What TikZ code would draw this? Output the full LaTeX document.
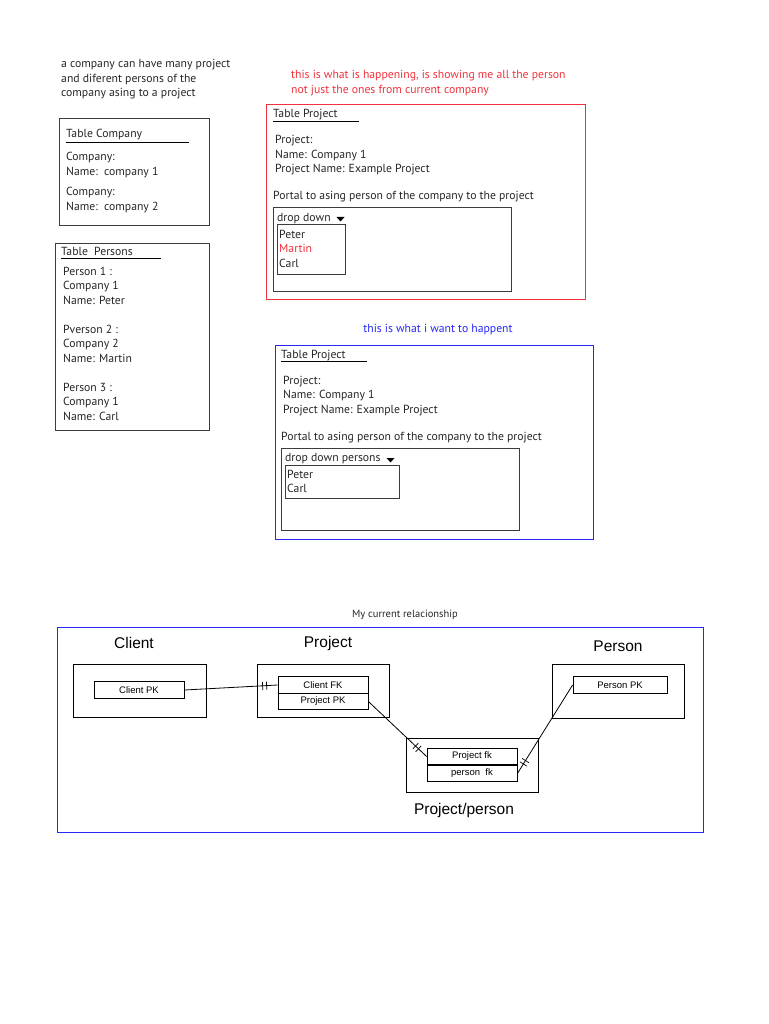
\documentclass[tikz,border=0pt]{standalone}
\usepackage{fontspec}
\setmainfont{PT Sans}
\newfontfamily\arialfont{Liberation Sans}
\usetikzlibrary{decorations.markings}
\definecolor{boxgray}{RGB}{60,60,60}
\definecolor{wrongred}{RGB}{240,50,60}
\definecolor{wantblue}{RGB}{40,40,245}

\begin{document}
\begin{tikzpicture}[x=1pt,y=-1pt,
    txt/.style={anchor=base west,inner sep=0pt,text=black!85,font=\fontsize{11.7}{13}\selectfont},
    tbl/.style={draw=boxgray,line width=1pt},
    ent/.style={draw=black,line width=0.8pt,inner sep=0pt},
    keybox/.style={draw=black,line width=0.8pt,inner sep=0pt,minimum height=16.5pt,font=\arialfont\fontsize{9.5}{10}\selectfont},
    title/.style={inner sep=0pt,font=\arialfont\fontsize{15.5}{17}\selectfont},
    twobars/.style={decoration={markings,
        mark=at position -11pt with {\draw[line width=0.7pt] (0,-4pt) -- (0,4pt);},
        mark=at position -15pt with {\draw[line width=0.7pt] (0,-4pt) -- (0,4pt);}},
      postaction={decorate}}]
    \useasboundingbox[fill=white] (0,0) rectangle (768,1024);

    % Note at the top
    \foreach \t [count=\i] in {a company can have many project, and diferent persons of the, company asing to a project}
      \node[txt] (note\i) at (61,53.5+14.5*\i) {\t};

    % Table Company
    \draw[tbl] (59,119) rectangle (209,226);
    \node[txt] (comphead) at (66,138) {Table Company};
    \draw[line width=0.8pt] (66,142) -- (189,142);
    \node[txt] (comp1a) at (66,161) {Company:};
    \node[txt] (comp1b) at (66,176) {Name:\ \ company 1};
    \node[txt] (comp2a) at (66,196) {Company:};
    \node[txt] (comp2b) at (66,211) {Name:\ \ company 2};

    % Table Persons
    \draw[tbl] (55,243) rectangle (209,430);
    \node[txt] (perhead) at (61,255) {Table\ \ Persons};
    \draw[line width=0.8pt] (61,258) -- (161,258);
    \foreach \t [count=\i] in {Person 1 :, Company 1, Name: Peter}
      \node[txt] (pera\i) at (63,260.5+14.5*\i) {\t};
    \foreach \t [count=\i] in {Pverson 2 :, Company 2, Name: Martin}
      \node[txt] (perb\i) at (63,318.5+14.5*\i) {\t};
    \foreach \t [count=\i] in {Person 3 :, Company 1, Name: Carl}
      \node[txt] (perc\i) at (63,376.5+14.5*\i) {\t};

    % What happens now (red)
    \node[txt,text=wrongred] (redline1) at (291,79) {this is what is happening, is showing me all the person};
    \node[txt,text=wrongred] (redline2) at (291,94) {not just the ones from current company};
    \draw[draw=wrongred,line width=1pt] (266,105) rectangle (585,299);
    \node[txt] (redhead) at (273,118) {Table Project};
    \draw[line width=0.8pt] (273,121) -- (359,121);
    \foreach \t [count=\i] in {Project:, Name: Company 1, Project Name: Example Project}
      \node[txt] (redproj\i) at (275,129.5+14.5*\i) {\t};
    \node[txt] (redportal) at (273,200) {Portal to asing person of the company to the project};
    \draw[tbl] (273,208) rectangle (511,291);
    \node[txt] (reddrop) at (277,222) {drop down};
    \fill[black] (336.5,217) -- (344.5,217) -- (340.5,221.5) -- cycle;
    \draw[tbl] (277,225) rectangle (345,274);
    \node[txt] (redpeter) at (279,238) {Peter};
    \node[txt,text=wrongred] (redmartin) at (279,252) {Martin};
    \node[txt] (redcarl) at (279,267) {Carl};

    % What should happen (blue)
    \node[txt,anchor=base,text=wantblue] (blueline) at (438,332) {this is what i want to happent};
    \draw[draw=wantblue,line width=1pt] (275,345) rectangle (593,539);
    \node[txt] (bluehead) at (281,358) {Table Project};
    \draw[line width=0.8pt] (281,361) -- (367,361);
    \foreach \t [count=\i] in {Project:, Name: Company 1, Project Name: Example Project}
      \node[txt] (blueproj\i) at (283,369.5+14.5*\i) {\t};
    \node[txt] (blueportal) at (281,440) {Portal to asing person of the company to the project};
    \draw[tbl] (281,448) rectangle (519,530);
    \node[txt] (bluedrop) at (285,461) {drop down persons};
    \fill[black] (386.5,458) -- (394.5,458) -- (390.5,462.5) -- cycle;
    \draw[tbl] (285,465) rectangle (399,498);
    \node[txt] (bluepeter) at (287,478) {Peter};
    \node[txt] (bluecarl) at (287,492) {Carl};

    % Current relationship
    \node[txt,anchor=base,font=\fontsize{10.5}{12}\selectfont] (relhead) at (405,617) {My current relacionship};
    \draw[draw=wantblue,line width=1pt] (57,627) rectangle (703,832);

    \node[title] (clienttitle) at (134,643) {Client};
    \node[title] (projecttitle) at (328,643) {Project};
    \node[title] (persontitle) at (618,646) {Person};
    \node[title] (pptitle) at (464,810) {Project/person};

    \node[ent,minimum width=133pt,minimum height=53pt] (client) at (139.5,690.5) {};
    \node[ent,minimum width=132pt,minimum height=53pt] (project) at (323,690.5) {};
    \node[ent,minimum width=132pt,minimum height=54pt] (person) at (618,691) {};
    \node[ent,minimum width=132pt,minimum height=54pt] (projper) at (472,765) {};

    \node[keybox,minimum width=90pt] (clientpk) at (139,690) {Client PK};
    \node[keybox,minimum width=90pt] (clientfk) at (323,685) {Client FK};
    \node[keybox,minimum width=90pt] (projectpk) at (323,701.5) {Project PK};
    \node[keybox,minimum width=94pt] (personpk) at (620,685) {Person PK};
    \node[keybox,minimum width=90pt] (projectfk) at (472,756.5) {Project fk};
    \node[keybox,minimum width=90pt] (personfk) at (472,773.5) {person\ \ fk};

    % Links
    \draw[line width=0.8pt,twobars] (clientpk.east) -- (clientfk.west);
    \draw[line width=0.8pt,twobars] (projectpk.east) -- (projectfk.west);
    \draw[line width=0.8pt,twobars] (personpk.west) -- (personfk.east);
\end{tikzpicture}
\end{document}
